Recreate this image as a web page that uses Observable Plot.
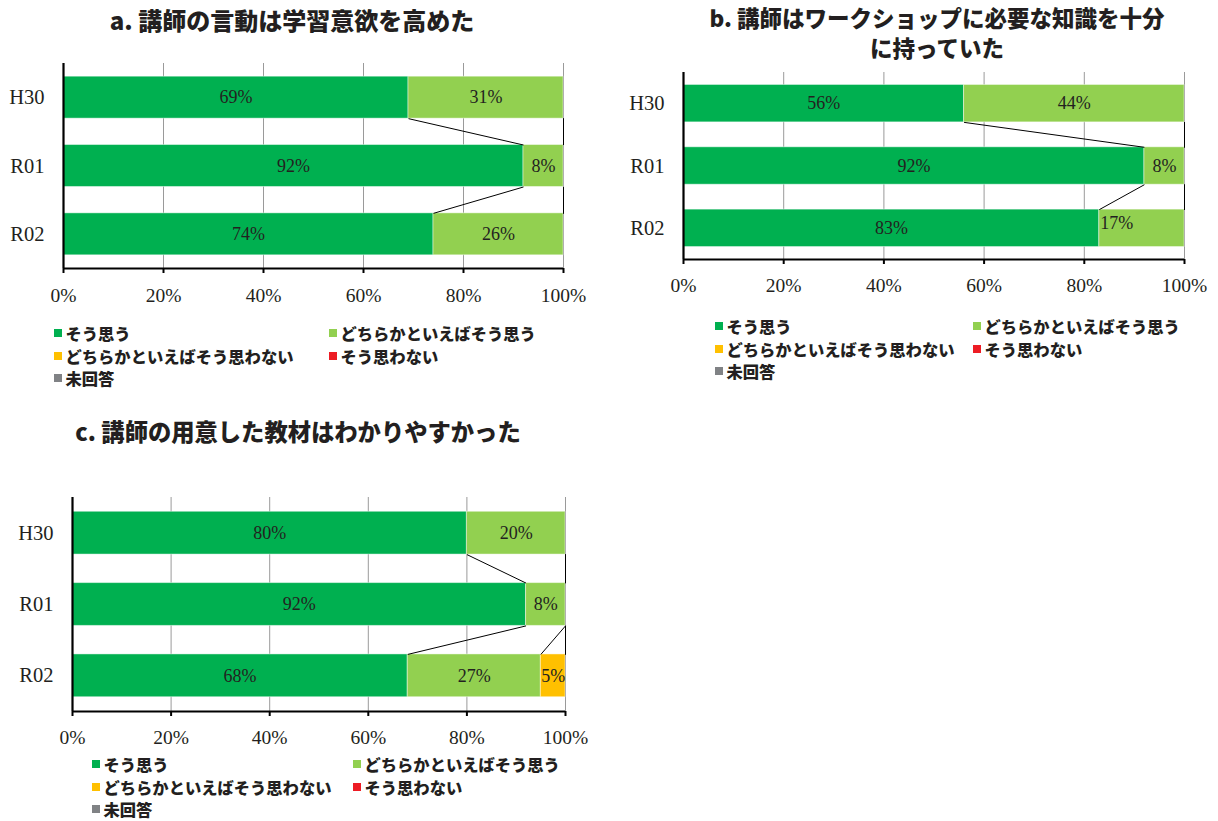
<!DOCTYPE html>
<html>
<head>
<meta charset="utf-8">
<script src="https://cdn.jsdelivr.net/npm/d3@7"></script>
<script src="https://cdn.jsdelivr.net/npm/@observablehq/plot@0.6"></script>
<style>
  body { margin: 0; background: #fff; width: 1218px; height: 821px; position: relative; overflow: hidden;
         font-family: "Noto Sans CJK JP", sans-serif; color: #231f20; }
  .title { position: absolute; font-weight: 900; text-align: center; line-height: 29.5px; white-space: nowrap; }
  .chart { position: absolute; }
  .chart svg { display: block; overflow: visible; }
  .legend-item { position: absolute; display: flex; align-items: center; height: 16px; line-height: 16px; white-space: nowrap;
                 font-weight: 900; font-size: 16.3px; }
  .legend-item .sw { width: 8px; height: 8px; margin-right: 3.5px; flex: none; }
</style>
</head>
<body>
<script>
// Survey years (rows) and answer categories (stacked segments)
const years = ["H30", "R01", "R02"];
const seriesNames = ["そう思う", "どちらかといえばそう思う", "どちらかといえばそう思わない", "そう思わない", "未回答"];
const seriesColors = ["#00b050", "#92d050", "#ffc000", "#ed1c24", "#808285"];
const xTicks = [0, 20, 40, 60, 80, 100];

// a. 講師の言動は学習意欲を高めた (percent per year, in category order)
const titleA = ["a. 講師の言動は学習意欲を高めた"];
const valuesA = [
  [69, 31, 0, 0, 0],
  [92, 8, 0, 0, 0],
  [74, 26, 0, 0, 0]
];

// b. 講師はワークショップに必要な知識を十分に持っていた
const titleB = ["b. 講師はワークショップに必要な知識を十分", "に持っていた"];
const valuesB = [
  [56, 44, 0, 0, 0],
  [92, 8, 0, 0, 0],
  [83, 17, 0, 0, 0]
];

// c. 講師の用意した教材はわかりやすかった
const titleC = ["c. 講師の用意した教材はわかりやすかった"];
const valuesC = [
  [80, 20, 0, 0, 0],
  [92, 8, 0, 0, 0],
  [68, 27, 5, 0, 0]
];

const serif = "'Liberation Serif', 'Times New Roman', serif";

function drawPanel(cfg) {
  // stacked segments
  const segs = [];
  cfg.values.forEach((row, i) => {
    let x0 = 0;
    row.forEach((v, s) => {
      segs.push({i, s, value: v, x1: x0, x2: x0 + v});
      x0 += v;
    });
  });
  const h = cfg.barHalf;
  // series lines joining each category's end between consecutive bars
  const links = [];
  for (let i = 0; i < years.length - 1; i++) {
    for (let s = 0; s < seriesNames.length; s++) {
      const a = segs.find(d => d.i === i && d.s === s);
      const b = segs.find(d => d.i === i + 1 && d.s === s);
      links.push({xa: a.x2, ya: i + h, xb: b.x2, yb: i + 1 - h});
    }
  }
  const isStart = d => (cfg.startLabels || []).some(([i, s]) => i === d.i && s === d.s);
  const shown = segs.filter(d => d.value > 0);

  const svg = Plot.plot({
    width: cfg.width, height: cfg.height,
    marginLeft: cfg.ml, marginRight: cfg.mr, marginTop: cfg.mt, marginBottom: cfg.mb,
    x: {domain: [0, 100], label: null},
    y: {domain: [-0.5, years.length - 0.5], reverse: true, label: null},
    style: {background: "transparent"},
    marks: [
      Plot.gridX(xTicks.slice(1), {stroke: "#9a9a9a", strokeOpacity: 1, strokeWidth: 1}),
      Plot.rect(shown, {
        x1: "x1", x2: "x2", y1: d => d.i - h, y2: d => d.i + h,
        fill: d => seriesColors[d.s], stroke: "#ffffff", strokeOpacity: 0.45, strokeWidth: 1
      }),
      Plot.link(links, {x1: "xa", y1: "ya", x2: "xb", y2: "yb", stroke: "#000", strokeWidth: 1}),
      Plot.text(shown.filter(d => !isStart(d)), {
        x: d => (d.x1 + d.x2) / 2, y: "i", text: d => d.value + "%",
        fontSize: 18, fontFamily: serif, fill: "#231f20"
      }),
      Plot.text(shown.filter(isStart), {
        x: "x1", y: "i", text: d => d.value + "%", textAnchor: "start", dx: 1, dy: -5,
        fontSize: 18, fontFamily: serif, fill: "#231f20"
      }),
      Plot.ruleX([0], {stroke: "#000", strokeWidth: 2.2}),
      Plot.ruleY([years.length - 0.5], {stroke: "#000", strokeWidth: 2.2}),
      Plot.axisX(xTicks, {
        tickFormat: d => d + "%", tickSize: 5, tickPadding: cfg.tickPad, stroke: "#000", strokeWidth: 2,
        fontSize: 19.5, fontFamily: serif, fill: "#231f20", label: null
      }),
      Plot.axisY(years.map((_, i) => i), {
        tickFormat: i => years[i], tickSize: 0, tickPadding: 19,
        fontSize: 20.5, fontFamily: serif, fill: "#231f20", label: null
      })
    ]
  });
  const holder = document.createElement("div");
  holder.className = "chart";
  holder.style.left = cfg.left + "px";
  holder.style.top = cfg.top + "px";
  holder.appendChild(svg);
  document.body.appendChild(holder);

  // title
  const t = document.createElement("div");
  t.className = "title";
  t.style.left = (cfg.titleCenter - 300) + "px";
  t.style.width = "600px";
  t.style.top = cfg.titleTop + "px";
  t.style.fontSize = cfg.titleSize + "px";
  t.innerHTML = cfg.title.join("<br>");
  document.body.appendChild(t);

  // legend: two columns, row-major order
  seriesNames.forEach((name, k) => {
    const col = k % 2, row = Math.floor(k / 2);
    const item = document.createElement("div");
    item.className = "legend-item";
    item.style.left = (col === 0 ? cfg.legLeft : cfg.legCol2) + "px";
    item.style.top = (cfg.legTop + row * cfg.legGap - 8) + "px";
    const sw = document.createElement("span");
    sw.className = "sw";
    sw.style.background = seriesColors[k];
    const tx = document.createElement("span");
    tx.textContent = name;
    item.appendChild(sw);
    item.appendChild(tx);
    document.body.appendChild(item);
  });
}

drawPanel({
  values: valuesA, title: titleA, titleCenter: 292, titleTop: 5, titleSize: 24,
  left: 0, top: 50, width: 600, height: 270, ml: 63, mr: 37, mt: 13, mb: 52, barHalf: 0.307, tickPad: 15,
  legLeft: 54, legCol2: 329, legTop: 333, legGap: 22.5
});
drawPanel({
  values: valuesB, title: titleB, titleCenter: 937, titleTop: 3, titleSize: 22.5,
  left: 610, top: 60, width: 608, height: 250, ml: 73, mr: 34, mt: 12, mb: 51, barHalf: 0.3, tickPad: 14,
  legLeft: 715, legCol2: 973, legTop: 326, legGap: 22.5,
  startLabels: [[2, 1]]
});
drawPanel({
  values: valuesC, title: titleC, titleCenter: 298, titleTop: 417, titleSize: 23.3,
  left: 0, top: 480, width: 600, height: 270, ml: 72, mr: 35, mt: 17, mb: 39, barHalf: 0.3, tickPad: 14,
  legLeft: 92, legCol2: 353, legTop: 764, legGap: 22.5
});
</script>
</body>
</html>
